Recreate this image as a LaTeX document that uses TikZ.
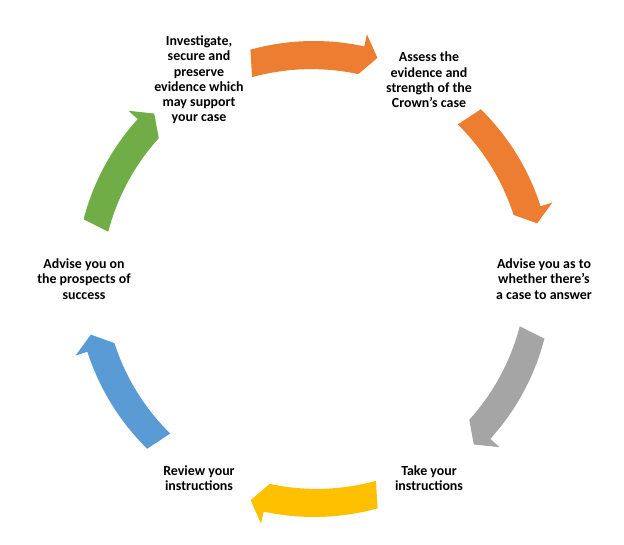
\documentclass[tikz,border=0pt]{standalone}
\usepackage{fontspec}
\setmainfont{Carlito}
\usetikzlibrary{positioning}

\definecolor{cycorange}{HTML}{ED7D31}
\definecolor{cycgray}{HTML}{A5A5A5}
\definecolor{cycyellow}{HTML}{FFC000}
\definecolor{cycblue}{HTML}{5B9BD5}
\definecolor{cycgreen}{HTML}{70AD47}

% curved block arrow on the circle, #1 = colour, #2 = middle angle
\newcommand{\cyclearrow}[2]{%
    \pgfmathsetmacro{\tailA}{#2+15.5}
    \pgfmathsetmacro{\baseA}{#2-12.2}
    \pgfmathsetmacro{\tipA}{#2-16}
    \fill [#1] (\tailA:5.95) arc [start angle=\tailA, end angle=\baseA, radius=5.95cm]
        -- (\baseA:6.26) -- (\tipA:5.75) -- (\baseA:5.24)
        arc [start angle=\baseA, end angle=\tailA, radius=5.55cm] -- cycle;
}

\tikzset{
    step text/.style={align=center,font=\bfseries\fontsize{9.9}{10.8}\selectfont,inner sep=1pt}
}

\begin{document}
\begin{tikzpicture}
    \useasboundingbox (-7.85,-6.625) rectangle (7.75,6.975);

    \node [step text] (investigate) at (120:5.75) {Investigate,\\secure and\\preserve\\evidence which\\may support\\your case};
    \node [step text] (assess)      at (60:5.75)  {Assess the\\evidence and\\strength of the\\Crown’s case};
    \node [step text] (answer)      at (0:5.75)   {Advise you as to\\whether there’s\\a case to answer};
    \node [step text] (take)        at (-60:5.75) {Take your\\instructions};
    \node [step text] (review)      at (-120:5.75){Review your\\instructions};
    \node [step text] (prospects)   at (180:5.75) {Advise you on\\the prospects of\\success};

    \foreach \col/\ang in {cycorange/90,cycorange/30,cycgray/-30,cycyellow/-90,cycblue/-150,cycgreen/150}{%
        \cyclearrow{\col}{\ang}
    }

\end{tikzpicture}
\end{document}
